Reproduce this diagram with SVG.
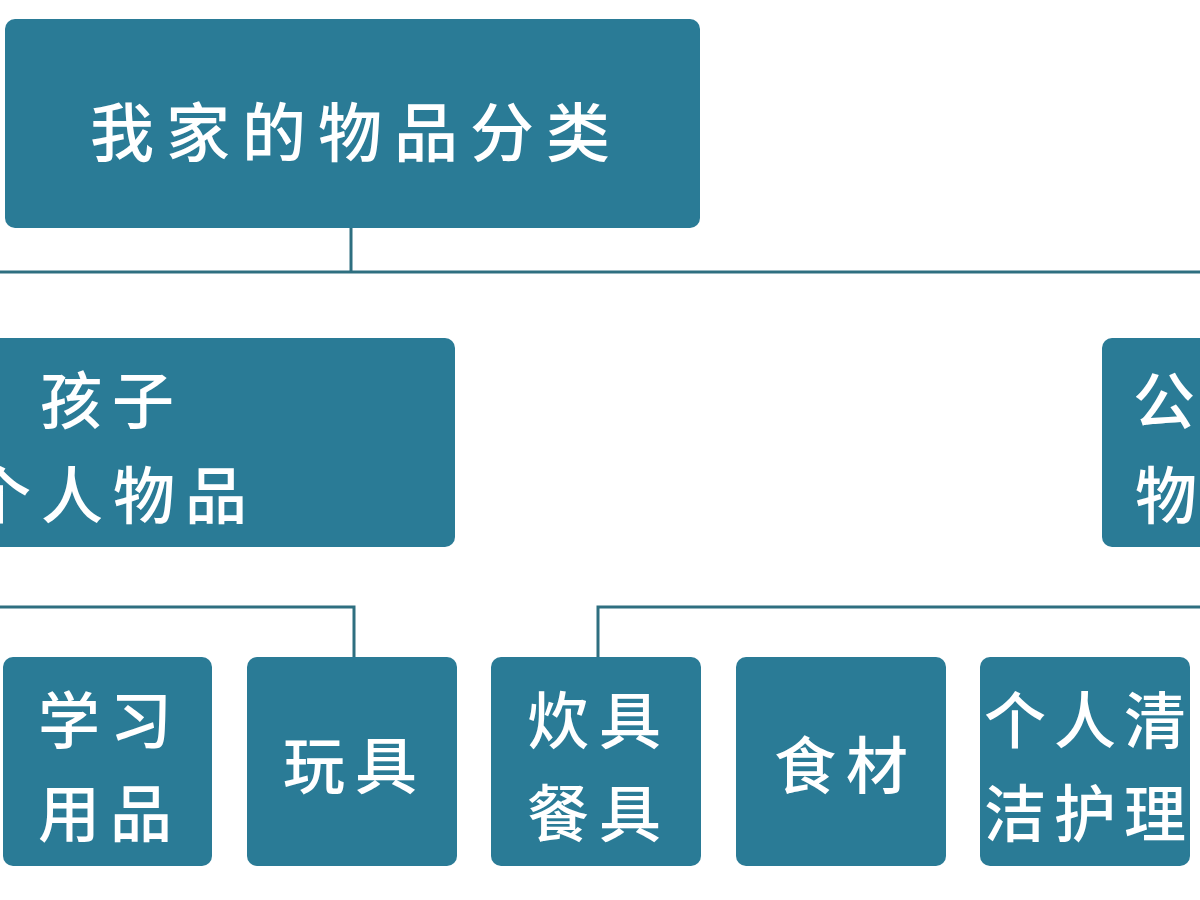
<svg xmlns="http://www.w3.org/2000/svg" width="1200" height="900" viewBox="0 0 1200 900">
  <style>
    .box { fill: #2a7b96; }
    .lbl { fill: #ffffff; font-family: "Noto Sans CJK SC", "Noto Sans", sans-serif; font-weight: 500; font-size: 62px; letter-spacing: 10px; text-anchor: middle; dominant-baseline: central; }
    .title { font-size: 64px; letter-spacing: 12px; }
    .conn { fill: none; stroke: #2e6f80; stroke-width: 3; }
  </style>
  <rect width="1200" height="900" fill="#ffffff"/>
  <g id="connectors">
    <path class="conn" d="M351 228 V272 M0 272 H1200"/>
    <path class="conn" d="M0 607 H354 V657"/>
    <path class="conn" d="M598 657 V607 H1200"/>
  </g>
  <g id="root">
    <rect class="box" x="5" y="19" width="695" height="209" rx="10"/>
    <text class="lbl title" x="356" y="128">我家的物品分类</text>
  </g>
  <g id="child-items">
    <rect class="box" x="-20" y="338" width="475" height="209" rx="10"/>
    <text class="lbl" x="112" y="397">孩子</text>
    <text class="lbl" x="113" y="492">个人物品</text>
  </g>
  <g id="public-items">
    <rect class="box" x="1102" y="338" width="120" height="209" rx="10"/>
    <text class="lbl" x="1133" y="397" style="text-anchor:start">公</text>
    <text class="lbl" x="1135" y="492" style="text-anchor:start">物</text>
  </g>
  <g id="study">
    <rect class="box" x="3" y="657" width="209" height="209" rx="10"/>
    <text class="lbl" x="110" y="717">学习</text>
    <text class="lbl" x="110" y="810">用品</text>
  </g>
  <g id="toys">
    <rect class="box" x="247" y="657" width="210" height="209" rx="10"/>
    <text class="lbl" x="355" y="762">玩具</text>
  </g>
  <g id="kitchen">
    <rect class="box" x="491" y="657" width="210" height="209" rx="10"/>
    <text class="lbl" x="599" y="717">炊具</text>
    <text class="lbl" x="599" y="810">餐具</text>
  </g>
  <g id="food">
    <rect class="box" x="736" y="657" width="210" height="209" rx="10"/>
    <text class="lbl" x="846" y="762">食材</text>
  </g>
  <g id="hygiene">
    <rect class="box" x="980" y="657" width="210" height="209" rx="10"/>
    <text class="lbl" x="1089" y="717" style="letter-spacing:8px">个人清</text>
    <text class="lbl" x="1089" y="810" style="letter-spacing:8px">洁护理</text>
  </g>
</svg>
